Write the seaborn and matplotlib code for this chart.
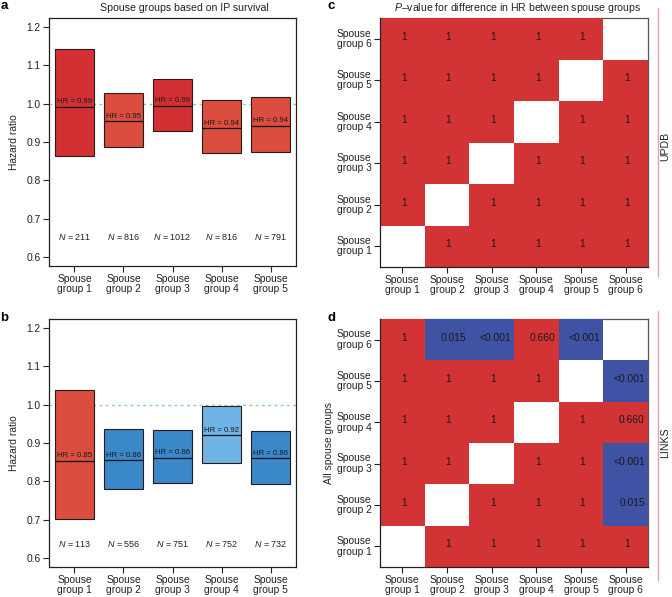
import numpy as np
import pandas as pd
import seaborn as sns
import matplotlib.pyplot as plt
from matplotlib.colors import ListedColormap
from matplotlib.lines import Line2D

# data
bar_groups = ["Spouse\ngroup 1", "Spouse\ngroup 2", "Spouse\ngroup 3", "Spouse\ngroup 4", "Spouse\ngroup 5"]
heat_groups = ["Spouse\ngroup 1", "Spouse\ngroup 2", "Spouse\ngroup 3",
               "Spouse\ngroup 4", "Spouse\ngroup 5", "Spouse\ngroup 6"]

# panel a (UPDB)
a_hr = [0.99, 0.95, 0.99, 0.94, 0.94]
a_hr_line = [0.992, 0.954, 0.994, 0.936, 0.943]
a_low = [0.863, 0.887, 0.929, 0.870, 0.875]
a_high = [1.142, 1.028, 1.065, 1.009, 1.017]
a_n = [211, 816, 1012, 816, 791]
a_colors = ["#D33034", "#DA4D3F", "#D33034", "#DA4D3F", "#DA4D3F"]

# panel b (LINKS)
b_hr = [0.85, 0.86, 0.86, 0.92, 0.86]
b_hr_line = [0.853, 0.855, 0.862, 0.920, 0.860]
b_low = [0.701, 0.779, 0.796, 0.849, 0.792]
b_high = [1.038, 0.936, 0.933, 0.997, 0.932]
b_n = [113, 556, 751, 752, 732]
b_colors = ["#D94E3E", "#3A87C9", "#3A87C9", "#70B3E5", "#3A87C9"]

# p-values, row = group i, column = group j
updb_p = [
    ["", "1", "1", "1", "1", "1"],
    ["1", "", "1", "1", "1", "1"],
    ["1", "1", "", "1", "1", "1"],
    ["1", "1", "1", "", "1", "1"],
    ["1", "1", "1", "1", "", "1"],
    ["1", "1", "1", "1", "1", ""],
]
links_p = [
    ["", "1", "1", "1", "1", "1"],
    ["1", "", "1", "1", "1", "0.015"],
    ["1", "1", "", "1", "1", "<0.001"],
    ["1", "1", "1", "", "1", "0.660"],
    ["1", "1", "1", "1", "", "<0.001"],
    ["1", "0.015", "<0.001", "0.660", "<0.001", ""],
]

sns.set_style("ticks")
plt.rcParams["font.family"] = ["Liberation Sans", "DejaVu Sans"]
plt.rcParams["mathtext.fontset"] = "custom"
plt.rcParams["mathtext.rm"] = "Liberation Sans"
plt.rcParams["mathtext.it"] = "Liberation Sans:italic"
plt.rcParams["axes.edgecolor"] = "#222222"
plt.rcParams["xtick.color"] = "#222222"
plt.rcParams["ytick.color"] = "#222222"
plt.rcParams["text.color"] = "#222222"

fig = plt.figure(figsize=(6.72, 5.97), dpi=100)
W, H = 672, 597


def add_ax(l, t, r, b):
    return fig.add_axes([l / W, 1 - b / H, (r - l) / W, (b - t) / H])


def bar_panel(ax, hr, hr_line, low, high, n, colors, n_y):
    x = np.arange(len(bar_groups))
    ax.bar(x, np.array(high) - np.array(low), bottom=low, width=0.8,
           color=colors, edgecolor="#2a1a1a", linewidth=0.8, zorder=2)
    ax.hlines(hr_line, x - 0.4, x + 0.4, color="#111111", linewidth=0.9, zorder=3)
    ax.axhline(1.0, color="#86cdbb", linestyle=(0, (2, 2.5)), linewidth=1.0, zorder=1)
    for xi, h, hl in zip(x, hr, hr_line):
        ax.text(xi, hl + 0.004, f"HR = {h:.2f}", ha="center", va="bottom",
                fontsize=5.6, color="#1a1a1a", zorder=4)
    for xi, ni in zip(x, n):
        ax.text(xi, n_y, f"$N$ = {ni}", ha="center", va="center", fontsize=6.5)
    ax.set_xlim(-0.52, 4.52)
    ax.set_ylim(0.576, 1.224)
    ax.set_yticks([0.6, 0.7, 0.8, 0.9, 1.0, 1.1, 1.2])
    ax.set_yticklabels(["0.6", "0.7", "0.8", "0.9", "1.0", "1.1", "1.2"])
    ax.set_xticks(x)
    ax.set_xticklabels(bar_groups)
    ax.tick_params(labelsize=7.4, length=4, width=0.8, direction="out")
    ax.tick_params(axis="x", pad=1.5)
    ax.tick_params(axis="y", pad=2)
    plt.setp(ax.get_xticklabels(), linespacing=1.05)
    ax.set_ylabel("Hazard ratio", fontsize=7.4, labelpad=5)
    for s in ax.spines.values():
        s.set_linewidth(0.9)


def heat_panel(ax, plabels):
    rows = plabels[::-1]
    sig = [[np.nan if v == "" else (1.0 if (v.startswith("<") or float(v) < 0.05) else 0.0)
            for v in r] for r in rows]
    df = pd.DataFrame(sig, index=heat_groups[::-1], columns=heat_groups)
    sns.heatmap(df, ax=ax, cmap=ListedColormap(["#D23436", "#3F52A4"]), vmin=0, vmax=1,
                cbar=False, linewidths=0, xticklabels=heat_groups,
                yticklabels=heat_groups[::-1])
    for i, r in enumerate(rows):
        for j, v in enumerate(r):
            if v == "":
                continue
            if v == "1":
                ax.text(j + 0.53, i + 0.45, v, ha="center", va="center", fontsize=7.4,
                        color="#1a1a1a")
            else:
                ax.text(j + 0.93, i + 0.45, v, ha="right", va="center", fontsize=7.4,
                        color="#1a1a1a")
    ax.tick_params(labelsize=7.4, length=4, width=0.8, direction="out",
                   bottom=True, left=True)
    ax.tick_params(axis="x", pad=1.5)
    ax.tick_params(axis="y", pad=2)
    plt.setp(ax.get_yticklabels(), rotation=0, multialignment="left", linespacing=1.05)
    plt.setp(ax.get_xticklabels(), rotation=0, linespacing=1.05)
    for name, s in ax.spines.items():
        s.set_visible(True)
        s.set_linewidth(0.9)
        if name in ("top", "right"):
            s.set_color("#555555")
            s.set_zorder(0.5)
    ax.set_xlabel("")


ax_a = add_ax(49, 18, 296, 266)
bar_panel(ax_a, a_hr, a_hr_line, a_low, a_high, a_n, a_colors, 0.651)

ax_b = add_ax(49, 319, 296, 567)
bar_panel(ax_b, b_hr, b_hr_line, b_low, b_high, b_n, b_colors, 0.636)

ax_c = add_ax(380, 18, 648, 267)
heat_panel(ax_c, updb_p)

ax_d = add_ax(380, 319, 648, 567)
heat_panel(ax_d, links_p)
ax_d.set_ylabel("All spouse groups", fontsize=7.4, labelpad=2)

# titles and panel letters
fig.text(184 / W, 1 - 8 / H, "Spouse groups based on IP survival", ha="center", va="center",
         fontsize=7.6)
fig.text(518 / W, 1 - 8 / H, "$P$–value for difference in HR between spouse groups",
         ha="center", va="center", fontsize=7.6)
for lab, (px, py) in {"a": (4, 6), "b": (4, 318), "c": (331, 6), "d": (331, 318)}.items():
    fig.text(px / W, 1 - py / H, lab, ha="center", va="center", fontsize=9.5,
             fontweight="bold", color="black")

# database side labels
fig.add_artist(Line2D([658 / W, 658 / W], [1 - 8 / H, 1 - 276 / H], color="#E8A0A8",
                      linewidth=1.0))
fig.add_artist(Line2D([658 / W, 658 / W], [1 - 311 / H, 1 - 580 / H], color="#E8A0A8",
                      linewidth=1.0))
fig.text(665.5 / W, 1 - 146 / H, "UPDB", rotation=90, ha="center", va="center", fontsize=7.6)
fig.text(665.5 / W, 1 - 443 / H, "LINKS", rotation=90, ha="center", va="center", fontsize=7.6)

fig.savefig("out.png", dpi=100)
